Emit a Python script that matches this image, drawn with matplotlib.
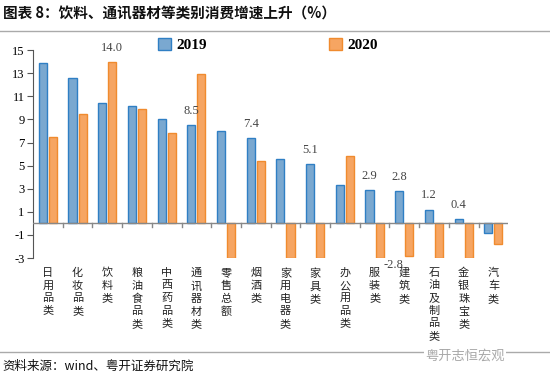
import matplotlib
matplotlib.use("Agg")
import matplotlib.pyplot as plt
import numpy as np

plt.rcParams["font.family"] = ["Noto Sans CJK SC", "DejaVu Sans"]

categories = ["日用品类", "化妆品类", "饮料类", "粮油食品类", "中西药品类", "通讯器材类",
              "零售总额", "烟酒类", "家用电器类", "家具类", "办公用品类", "服装类",
              "建筑类", "石油及制品类", "金银珠宝类", "汽车类"]
v2019 = [13.9, 12.6, 10.4, 10.2, 9.0, 8.5, 8.0, 7.4, 5.6, 5.1, 3.3, 2.9, 2.8, 1.2, 0.4, -0.8]
v2020 = [7.5, 9.5, 14.0, 9.9, 7.8, 12.9, -3.0, 5.4, -3.0, -3.0, 5.8, -3.0, -2.8, -3.0, -3.0, -1.8]
# which points carry a value label
labelled_2019 = [5, 7, 9, 11, 12, 13, 14]
labelled_2020 = [2, 12]
yticks = [15, 13, 11, 9, 7, 5, 3, 1, -1, -3]

SERIF = ["Liberation Serif", "DejaVu Serif"]
BLUE_FACE, BLUE_EDGE = "#7aa8d0", "#2f7fc4"
ORANGE_FACE, ORANGE_EDGE = "#f6a562", "#f08b2e"

fig = plt.figure(figsize=(5.5, 3.8), dpi=100)
ax = fig.add_axes([0.06, 0.321, 0.864, 0.547])

x = np.arange(len(categories))
w = 0.27
ax.bar(x - 0.17, v2019, w, color=BLUE_FACE, edgecolor=BLUE_EDGE, linewidth=1.0, label="2019", zorder=3)
ax.bar(x + 0.17, v2020, w, color=ORANGE_FACE, edgecolor=ORANGE_EDGE, linewidth=1.0, label="2020", zorder=3)

for i in labelled_2019:
    ax.text(x[i] - 0.17, v2019[i] + 0.7, f"{v2019[i]:.1f}", ha="center", va="bottom",
            family=SERIF, fontsize=9, color="#444444")
for i in labelled_2020:
    val = v2020[i]
    if val >= 0:
        ax.text(x[i] + 0.17, val + 0.7, f"{val:.1f}", ha="center", va="bottom",
                family=SERIF, fontsize=9, color="#444444")
    else:
        ax.text(x[i] - 0.35, val - 0.3, f"{val:.1f}", ha="center", va="top",
                family=SERIF, fontsize=9, color="#444444")

ax.set_xlim(-0.5, len(categories) - 0.5)
ax.set_ylim(-3, 15)
ax.set_yticks(yticks)
ax.set_yticklabels([str(t) for t in yticks], family=SERIF, fontsize=9)
ax.tick_params(axis="y", direction="out", length=4, color="#555555", pad=2)
for s in ["top", "right", "bottom"]:
    ax.spines[s].set_visible(False)
ax.spines["left"].set_color("#555555")
ax.set_xticks([])
ax.axhline(0, color="#888888", linewidth=1.0, zorder=4)
for b in np.arange(0.5, len(categories) - 0.5, 1.0):
    ax.plot([b, b], [0, -0.35], color="#888888", linewidth=1.0, zorder=4, clip_on=False)

# vertical category labels below the plot
for i, c in enumerate(categories):
    ax.text(x[i], -3.85, "\n".join(c), ha="center", va="top", fontsize=8,
            linespacing=1.32, color="#222222")

leg = ax.legend(loc="upper center", bbox_to_anchor=(0.495, 1.125), ncol=2, frameon=False,
                prop={"family": SERIF, "weight": "bold", "size": 11}, handlelength=0.8,
                handleheight=0.8, columnspacing=8, handletextpad=0.4)

# title, rules, source
fig.text(0.005, 0.965, "图表 8：饮料、通讯器材等类别消费增速上升（%）", fontsize=10.5,
         fontweight="bold", ha="left", va="center", color="#111111")
fig.add_artist(plt.Line2D([0, 1], [0.918, 0.918], color="#aaaaaa", linewidth=1.0))
fig.add_artist(plt.Line2D([0, 1], [0.073, 0.073], color="#aaaaaa", linewidth=1.0))
fig.text(0.005, 0.035, "资料来源：wind、粤开证券研究院", fontsize=9, style="italic",
         ha="left", va="center", color="#111111")
fig.text(0.918, 0.062, "粤开志恒宏观", fontsize=9.5, ha="right", va="center",
         color="#a8a8a8", bbox=dict(facecolor="white", edgecolor="none", pad=1))

fig.savefig("out.png", dpi=100)
